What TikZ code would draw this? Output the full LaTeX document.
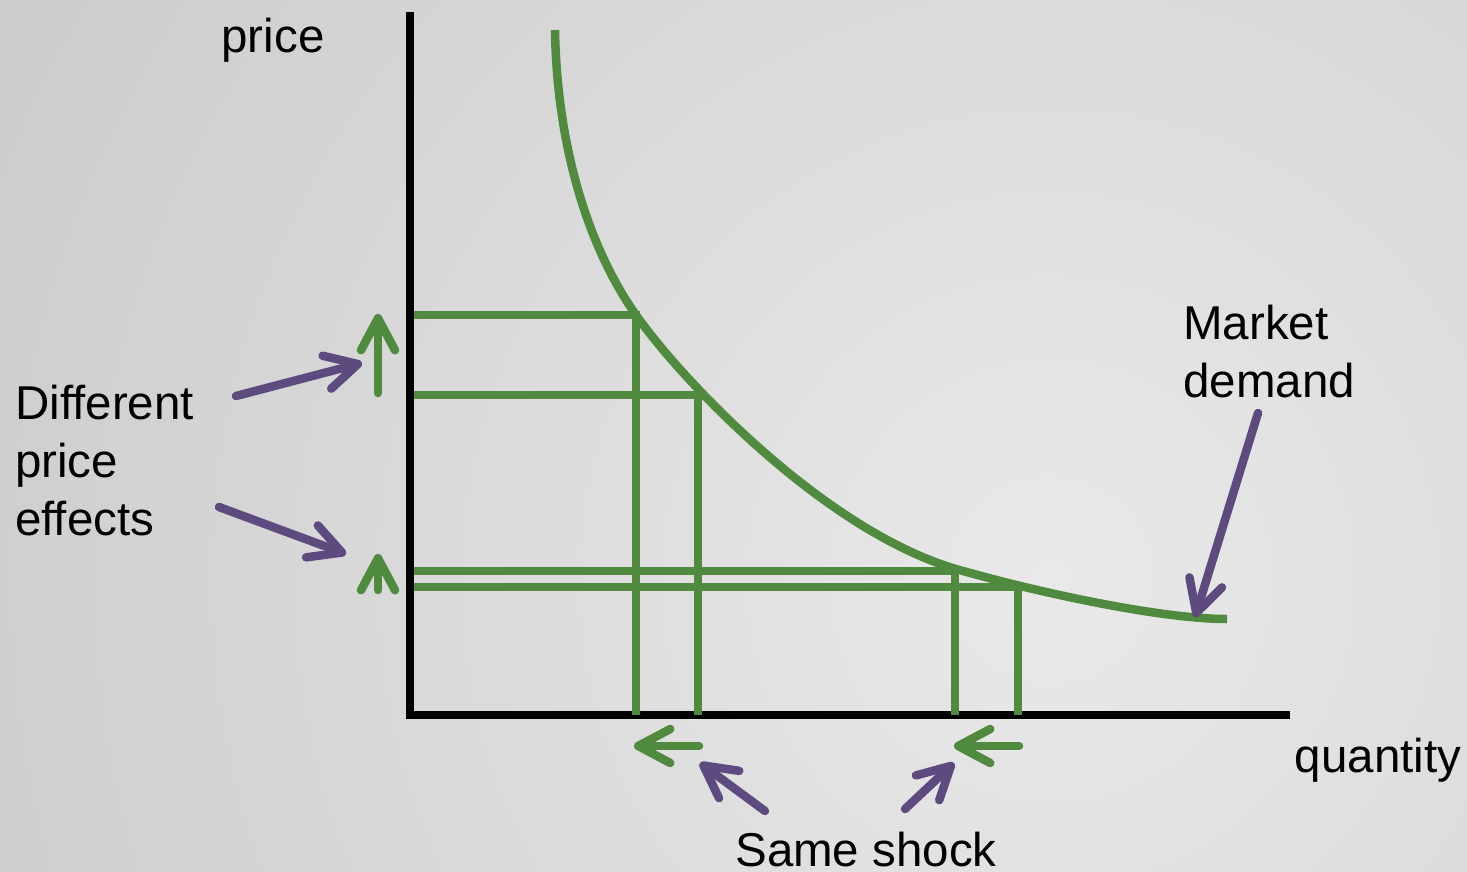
\documentclass[tikz,border=0pt]{standalone}
\usepackage{fontspec}
\setmainfont{Liberation Sans}
\usetikzlibrary{arrows.meta}
\definecolor{grn}{HTML}{4F8A3F}
\definecolor{prp}{HTML}{5D4A7F}
\definecolor{bgin}{HTML}{E9E9E9}
\definecolor{bgout}{HTML}{ADADAD}
\begin{document}
\begin{tikzpicture}[x=1pt,y=-1pt,
  ax/.style={line width=8.5pt, black},
  gl/.style={line width=8.5pt, grn},
  tipshape/.style={-{Straight Barb[length=32pt,width=34pt,round]}},
  garrow/.style={line width=8.5pt, grn, line cap=round, tipshape},
  parrow/.style={line width=8.5pt, prp, line cap=round, tipshape},
  lbl/.style={font=\fontsize{47.5}{58}\selectfont, inner sep=0pt, text=black}]
\useasboundingbox (0,0) rectangle (1467,872);
\begin{scope}
  \clip (0,0) rectangle (1467,872);
  \shade[inner color=bgin, outer color=bgout] (1050,580) circle (2450pt);
\end{scope}
% axes
\coordinate (ytop) at (410,12);
\coordinate (orig) at (410,715);
\coordinate (xend) at (1290,715);
\draw[ax] (ytop) -- (orig) -- (xend);
% price / quantity guide lines
\coordinate (pa) at (414,315); \coordinate (qa) at (636,715);
\coordinate (pb) at (414,395); \coordinate (qb) at (698,715);
\coordinate (pc) at (414,571); \coordinate (qc) at (955,715);
\coordinate (pd) at (414,587); \coordinate (qd) at (1018,715);
\draw[gl] (pa) -| (qa);
\draw[gl] (pb) -| (qb);
\draw[gl] (pc) -| (qc);
\draw[gl] (pd) -| (qd);
% demand curve
\coordinate (dtop) at (555,30);
\coordinate (d1) at (636,315);
\coordinate (d2) at (956,569);
\coordinate (dend) at (1227,619);
\draw[gl] (dtop) .. controls (557,150) and (590,250) .. (d1)
  .. controls (684,383) and (826,531) .. (d2)
  .. controls (1036,592) and (1160,619) .. (dend);
% green shift arrows
\coordinate (ga0) at (378,393); \coordinate (ga1) at (378,314);
\coordinate (gb0) at (378,590); \coordinate (gb1) at (378,554);
\coordinate (gc0) at (699,746); \coordinate (gc1) at (634,746);
\coordinate (gd0) at (1019,746); \coordinate (gd1) at (954,746);
\draw[garrow] (ga0) -- (ga1);
\draw[garrow] (gb0) -- (gb1);
\draw[garrow] (gc0) -- (gc1);
\draw[garrow] (gd0) -- (gd1);
% labels
\node[lbl, anchor=base] (price) at (273,53) {price};
\node[lbl, anchor=base] (qty) at (1378,772) {quantity};
\node[lbl, anchor=north west, align=left] (md) at (1183,305) {Market\\demand};
\node[lbl, anchor=north west, align=left] (dpe) at (15,385) {Different\\price\\effects};
\node[lbl, anchor=base] (ss) at (866,866) {Same shock};
% purple pointers
\coordinate (pa0) at (236,396); \coordinate (pa1) at (362,363);
\coordinate (pb0) at (219,507); \coordinate (pb1) at (346,554);
\coordinate (pc0) at (765,811); \coordinate (pc1) at (700,763);
\coordinate (pd0) at (905,809); \coordinate (pd1) at (954,763);
\coordinate (pe0) at (1258,413); \coordinate (pe1) at (1195,617);
\draw[parrow] (pa0) -- (pa1);
\draw[parrow] (pb0) -- (pb1);
\draw[parrow] (pc0) -- (pc1);
\draw[parrow] (pd0) -- (pd1);
\draw[parrow] (pe0) -- (pe1);
\end{tikzpicture}
\end{document}
